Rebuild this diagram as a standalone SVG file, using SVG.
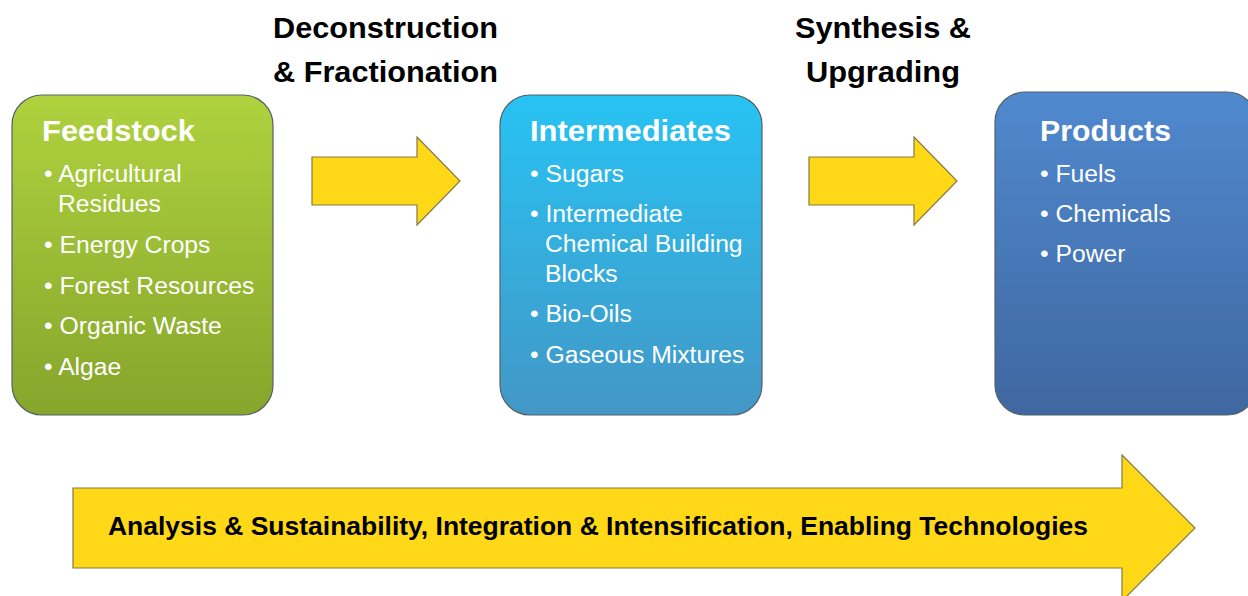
<svg xmlns="http://www.w3.org/2000/svg" width="1248" height="596" viewBox="0 0 1248 596">
<defs>
<linearGradient id="gGreen" x1="0" y1="0" x2="0" y2="1"><stop offset="0" stop-color="#AFD23E"/><stop offset="1" stop-color="#86A52C"/></linearGradient>
<linearGradient id="gCyan" x1="0" y1="0" x2="0" y2="1"><stop offset="0" stop-color="#27C3F3"/><stop offset="1" stop-color="#4397C6"/></linearGradient>
<linearGradient id="gBlue" x1="0" y1="0" x2="0" y2="1"><stop offset="0" stop-color="#5089CF"/><stop offset="1" stop-color="#3F67A0"/></linearGradient>
</defs>
<style>
.box{stroke:#55606a;stroke-width:1.2}
.arrow{fill:#FFD817;stroke:#857a45;stroke-width:1.2}
.title{font-family:"Liberation Sans",Arial,sans-serif;font-weight:bold;font-size:29px;fill:#ffffff}
.item{font-family:"Liberation Sans",Arial,sans-serif;font-size:24.7px;fill:#ffffff}
.head{font-family:"Liberation Sans",Arial,sans-serif;font-weight:bold;font-size:29px;fill:#000000}
.band{font-family:"Liberation Sans",Arial,sans-serif;font-weight:bold;font-size:25px;fill:#000000}
</style>
<rect width="1248" height="596" fill="#ffffff"/>
<g id="connectors">
<polygon id="arrow1" class="arrow" points="312,157 417,157 417,137 460,181 417,225 417,205 312,205"/>
<polygon id="arrow2" class="arrow" points="809,157 914,157 914,137 957,181 914,225 914,205 809,205"/>
</g>
<g id="label-deconstruction">
<text class="head" x="273" y="38" textLength="225" lengthAdjust="spacingAndGlyphs">Deconstruction</text>
<text class="head" x="273" y="82" textLength="225" lengthAdjust="spacingAndGlyphs">&amp; Fractionation</text>
</g>
<g id="label-synthesis">
<text class="head" x="795" y="38" textLength="176" lengthAdjust="spacingAndGlyphs">Synthesis &amp;</text>
<text class="head" x="806" y="82" textLength="154" lengthAdjust="spacingAndGlyphs">Upgrading</text>
</g>
<g id="feedstock">
<rect class="box" x="12" y="95" width="261" height="320" rx="30" fill="url(#gGreen)"/>
<text class="title" x="42" y="141" textLength="153" lengthAdjust="spacingAndGlyphs">Feedstock</text>
<text class="item" x="44" y="182">• Agricultural</text>
<text class="item" x="58" y="212">Residues</text>
<text class="item" x="44" y="253">• Energy Crops</text>
<text class="item" x="44" y="294">• Forest Resources</text>
<text class="item" x="44" y="334">• Organic Waste</text>
<text class="item" x="44" y="375">• Algae</text>
</g>
<g id="intermediates">
<rect class="box" x="500" y="95" width="262" height="320" rx="30" fill="url(#gCyan)"/>
<text class="title" x="530" y="141" textLength="201" lengthAdjust="spacingAndGlyphs">Intermediates</text>
<text class="item" x="530" y="182">• Sugars</text>
<text class="item" x="530" y="222">• Intermediate</text>
<text class="item" x="545" y="252">Chemical Building</text>
<text class="item" x="545" y="282">Blocks</text>
<text class="item" x="530" y="322">• Bio-Oils</text>
<text class="item" x="530" y="363">• Gaseous Mixtures</text>
</g>
<g id="products">
<rect class="box" x="995" y="92" width="262" height="323" rx="30" fill="url(#gBlue)"/>
<text class="title" x="1040" y="141" textLength="131" lengthAdjust="spacingAndGlyphs">Products</text>
<text class="item" x="1040" y="182">• Fuels</text>
<text class="item" x="1040" y="222">• Chemicals</text>
<text class="item" x="1040" y="262">• Power</text>
</g>
<g id="enabling-arrow">
<polygon class="arrow" points="73,488 1122,488 1122,455 1195,528 1122,601 1122,568 73,568"/>
<text class="band" x="108" y="535" textLength="980" lengthAdjust="spacingAndGlyphs">Analysis &amp; Sustainability, Integration &amp; Intensification, Enabling Technologies</text>
</g>
</svg>
